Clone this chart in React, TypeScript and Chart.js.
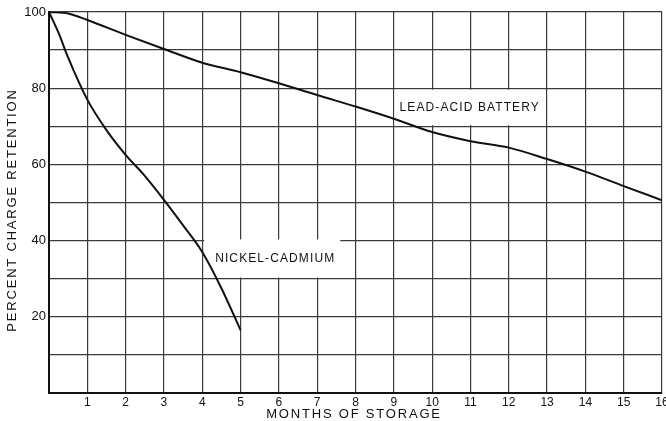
import React, { useEffect, useRef } from "react";
import { Chart, registerables } from "chart.js";

Chart.register(...registerables);

const leadMonths = [0, 0.5, 1, 2, 3, 4, 5, 6, 7, 8, 9, 10, 11, 12, 13, 14, 15, 16];
const leadValues = [100, 99.6, 97.9, 94, 90.3, 86.7, 84.2, 81.3, 78.2, 75.2, 72, 68.5, 66.1, 64.4, 61.4, 58.1, 54.3, 50.6];

const nicadMonths = [0, 0.25, 0.5, 1, 1.5, 2, 2.5, 3, 3.5, 4, 4.5, 5];
const nicadValues = [100, 94.5, 88, 77, 69, 62.5, 57, 50.7, 44, 37, 27.5, 16.5];

const yTickLabels = [20, 40, 60, 80, 100];
const xTickLabels = [1, 2, 3, 4, 5, 6, 7, 8, 9, 10, 11, 12, 13, 14, 15, 16];

const leadLabel = "LEAD-ACID BATTERY";
const nicadLabel = "NICKEL-CADMIUM";
const yTitle = "PERCENT CHARGE RETENTION";
const xTitle = "MONTHS OF STORAGE";

// label boxes in data units: [x0, x1, yTop, yBottom]
const leadBox = [9.02, 12.95, 79.6, 70.3];
const nicadBox = [4.05, 7.6, 40.3, 30.3];

const FONT = "'Liberation Sans', 'DejaVu Sans', sans-serif";

const decorPlugin = {
  id: "decor",
  beforeDatasetsDraw(chart: any) {
    const ctx = chart.ctx;
    const xs = chart.scales.x;
    const ys = chart.scales.y;
    const drawBox = (box: number[], text: string, inset: number) => {
      const x0 = xs.getPixelForValue(box[0]);
      const x1 = xs.getPixelForValue(box[1]);
      const y0 = ys.getPixelForValue(box[2]);
      const y1 = ys.getPixelForValue(box[3]);
      ctx.save();
      ctx.fillStyle = "#ffffff";
      ctx.fillRect(x0, y0, x1 - x0, y1 - y0);
      ctx.fillStyle = "#111";
      ctx.font = `12px ${FONT}`;
      (ctx as any).letterSpacing = "1.1px";
      ctx.textBaseline = "middle";
      ctx.textAlign = "left";
      ctx.fillText(text, x0 + inset, (y0 + y1) / 2);
      ctx.restore();
    };
    drawBox(leadBox, leadLabel, 5);
    drawBox(nicadBox, nicadLabel, 11);
  },
  afterDraw(chart: any) {
    const ctx = chart.ctx;
    ctx.save();
    ctx.fillStyle = "#111";
    ctx.font = `13px ${FONT}`;
    (ctx as any).letterSpacing = "1.8px";
    ctx.textAlign = "center";
    ctx.textBaseline = "top";
    ctx.fillText(xTitle, 354, 408);
    ctx.translate(12, 210);
    ctx.rotate(-Math.PI / 2);
    ctx.textBaseline = "middle";
    ctx.fillText(yTitle, 0, 0);
    ctx.restore();
  },
};

export default function App() {
  const ref = useRef<HTMLCanvasElement | null>(null);
  useEffect(() => {
    if (!ref.current) return;
    const chart = new Chart(ref.current, {
      type: "scatter",
      data: {
        datasets: [
          {
            label: leadLabel,
            data: leadMonths.map((m, i) => ({ x: m, y: leadValues[i] })),
            showLine: true,
            borderColor: "#111",
            borderWidth: 2,
            pointRadius: 0,
            cubicInterpolationMode: "monotone",
          },
          {
            label: nicadLabel,
            data: nicadMonths.map((m, i) => ({ x: m, y: nicadValues[i] })),
            showLine: true,
            borderColor: "#111",
            borderWidth: 2,
            pointRadius: 0,
            cubicInterpolationMode: "monotone",
          },
        ],
      },
      options: {
        animation: false,
        responsive: false,
        layout: { padding: { top: 12, right: 4, left: 0, bottom: 0 } },
        plugins: { legend: { display: false }, tooltip: { enabled: false } },
        scales: {
          x: {
            type: "linear",
            min: 0,
            max: 16,
            afterFit: (s: any) => {
              s.height = 28;
              s.paddingLeft = 0;
              s.paddingRight = 0;
            },
            ticks: {
              stepSize: 1,
              color: "#111",
              font: { family: FONT, size: 12 },
              padding: 2,
              maxRotation: 0,
              callback: (v: any) => (xTickLabels.includes(v) ? String(v) : ""),
            },
            grid: { color: "#3a3a3a", lineWidth: 1.2, drawTicks: false },
            border: { color: "#111", width: 2 },
          },
          y: {
            type: "linear",
            min: 0,
            max: 100,
            afterFit: (s: any) => {
              s.width = 49;
              s.paddingTop = 0;
              s.paddingBottom = 0;
            },
            ticks: {
              stepSize: 10,
              color: "#111",
              font: { family: FONT, size: 13 },
              padding: 3,
              callback: (v: any) => (yTickLabels.includes(v) ? String(v) : ""),
            },
            grid: { color: "#3a3a3a", lineWidth: 1.2, drawTicks: false },
            border: { color: "#111", width: 2 },
          },
        },
      },
      plugins: [decorPlugin],
    } as any);
    return () => chart.destroy();
  }, []);
  return (
    <div style={{ position: "absolute", left: 0, top: 0, width: 666, height: 421, background: "#fff" }}>
      <canvas ref={ref} width={666} height={421} style={{ display: "block" }} />
    </div>
  );
}
